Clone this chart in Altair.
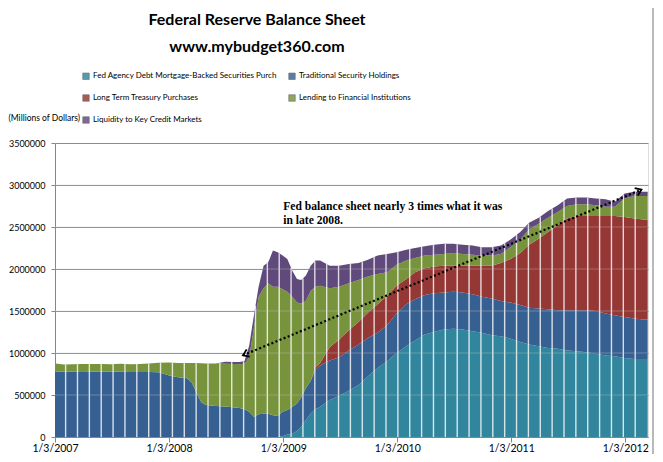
import altair as alt
import numpy as np
import pandas as pd

# ---- data (millions of dollars) ----
dates = [
    "2007-01-03", "2007-02-01", "2007-03-01", "2007-04-01", "2007-05-01", "2007-06-01",
    "2007-07-01", "2007-08-01", "2007-09-01", "2007-10-01", "2007-11-01", "2007-12-01",
    "2008-01-01", "2008-02-01", "2008-03-01", "2008-03-16", "2008-04-01", "2008-04-16",
    "2008-05-01", "2008-06-01", "2008-07-01", "2008-08-01", "2008-08-16", "2008-09-01",
    "2008-09-16", "2008-10-01", "2008-10-16", "2008-11-01", "2008-11-16", "2008-12-01",
    "2008-12-16", "2009-01-01", "2009-01-16", "2009-02-01", "2009-02-16", "2009-03-01",
    "2009-03-16", "2009-04-01", "2009-04-16", "2009-05-01", "2009-06-01", "2009-07-01",
    "2009-08-01", "2009-09-01", "2009-10-01", "2009-11-01", "2009-12-01", "2010-01-01",
    "2010-02-01", "2010-03-01", "2010-04-01", "2010-05-01", "2010-06-01", "2010-07-01",
    "2010-08-01", "2010-09-01", "2010-10-01", "2010-11-01", "2010-12-01", "2011-01-01",
    "2011-02-01", "2011-03-01", "2011-04-01", "2011-05-01", "2011-06-01", "2011-07-01",
    "2011-08-01", "2011-09-01", "2011-10-01", "2011-11-01", "2011-12-01", "2012-01-01",
    "2012-02-01", "2012-03-01", "2012-03-15",
]
mbs = [
    0, 0, 0, 0, 0, 0, 0, 0, 0, 0, 0, 0,
    0, 0, 0, 0, 0, 0, 0, 0, 0, 0, 0, 0,
    0, 0, 0, 0, 0, 0, 0, 10000, 30000, 40000, 70000, 120000,
    200000, 280000, 330000, 360000, 440000, 490000, 550000, 620000, 720000, 820000, 900000, 1000000,
    1080000, 1150000, 1220000, 1250000, 1280000, 1290000, 1280000, 1260000, 1240000, 1210000, 1200000, 1170000,
    1130000, 1100000, 1080000, 1060000, 1050000, 1030000, 1020000, 1010000, 990000, 970000, 960000, 940000,
    930000, 930000, 930000,
]
traditional = [
    780000, 780000, 781000, 782000, 781000, 781000, 780000, 778000, 775000, 774000, 773000, 770000,
    735000, 712000, 700000, 650000, 520000, 410000, 380000, 370000, 362000, 352000, 345000, 330000,
    300000, 240000, 270000, 278000, 278000, 260000, 250000, 290000, 290000, 320000, 330000, 350000,
    380000, 390000, 470000, 490000, 470000, 460000, 480000, 480000, 460000, 420000, 430000, 470000,
    500000, 490000, 470000, 460000, 440000, 440000, 440000, 440000, 430000, 440000, 420000, 430000,
    440000, 440000, 450000, 460000, 460000, 480000, 490000, 500000, 510000, 500000, 490000, 490000,
    480000, 470000, 470000,
]
long_term = [
    0, 0, 0, 0, 0, 0, 0, 0, 0, 0, 0, 0,
    0, 0, 0, 0, 0, 0, 0, 0, 0, 0, 0, 0,
    0, 0, 0, 0, 0, 0, 0, 0, 0, 0, 0, 0,
    0, 0, 30000, 30000, 160000, 210000, 240000, 270000, 300000, 340000, 350000, 330000,
    300000, 320000, 320000, 320000, 320000, 310000, 320000, 340000, 370000, 390000, 450000, 520000,
    620000, 750000, 830000, 920000, 1010000, 1090000, 1120000, 1120000, 1130000, 1160000, 1180000, 1190000,
    1190000, 1190000, 1190000,
]
lending = [
    95000, 82000, 85000, 86000, 88000, 87000, 87000, 94000, 91000, 96000, 102000, 113000,
    151000, 168000, 180000, 232000, 360000, 468000, 496000, 505000, 510000, 516000, 521000, 542000,
    650000, 1060000, 1400000, 1492000, 1552000, 1530000, 1540000, 1460000, 1410000, 1310000, 1200000, 1120000,
    1040000, 1070000, 960000, 920000, 700000, 630000, 560000, 500000, 430000, 360000, 280000, 250000,
    220000, 170000, 150000, 140000, 140000, 150000, 140000, 130000, 120000, 120000, 110000, 140000,
    160000, 180000, 180000, 170000, 160000, 150000, 140000, 140000, 130000, 110000, 110000, 220000,
    270000, 280000, 280000,
]
liquidity = [
    0, 0, 0, 0, 0, 0, 0, 0, 0, 0, 0, 0,
    0, 0, 0, 0, 0, 0, 0, 0, 23000, 25000, 27000, 33000,
    140000, 150000, 120000, 270000, 250000, 430000, 410000, 400000, 390000, 310000, 280000, 280000,
    300000, 300000, 310000, 300000, 270000, 250000, 230000, 200000, 200000, 220000, 220000, 150000,
    130000, 120000, 110000, 120000, 120000, 110000, 110000, 110000, 100000, 100000, 100000, 90000,
    90000, 80000, 70000, 80000, 80000, 90000, 80000, 80000, 80000, 90000, 60000, 60000,
    50000, 50000, 50000,
]

series_names = [
    "Fed Agency Debt  Mortgage-Backed Securities Purch",
    "Traditional Security Holdings",
    "Long Term Treasury Purchases",
    "Lending to Financial Institutions",
    "Liquidity to Key Credit  Markets",
]
series_values = [mbs, traditional, long_term, lending, liquidity]
bar_colors = ["#31859C", "#376092", "#953735", "#77933C", "#604A7B"]

title_lines = ["Federal Reserve Balance Sheet", "www.mybudget360.com"]

year_ticks = ["2007-01-03", "2008-01-03", "2009-01-03", "2010-01-03", "2011-01-03", "2012-01-03"]
y_ticks = [0, 500000, 1000000, 1500000, 2000000, 2500000, 3000000, 3500000]

note_text = ["Fed balance sheet nearly 3 times what it was", "in late 2008."]
note_date = ["2009-01-03"]
note_value = [2700000]

arrow_dates = ["2008-08-27", "2012-02-24"]
arrow_values = [973000, 2945000]

# ---- tables built from the arrays ----
rows = []
for i, d in enumerate(dates):
    for k, (name, vals) in enumerate(zip(series_names, series_values)):
        rows.append({"date": d, "series": name, "order": k, "value": vals[i]})
df = pd.DataFrame(rows)

# white seams Excel leaves between groups of weekly bars (decoration), up to the stack top
tot = np.array([sum(v[i] for v in series_values) for i in range(len(dates))], dtype=float)
dnum = pd.to_datetime(dates).astype("int64").to_numpy()
seam_dates = pd.date_range("2007-02-06", "2012-03-10", freq="38D")
seams = pd.DataFrame({
    "date": seam_dates.strftime("%Y-%m-%d"),
    "zero": 0,
    "total": np.interp(seam_dates.astype("int64").to_numpy(), dnum, tot),
})

arrow_df = pd.DataFrame({"date": arrow_dates, "value": arrow_values})
left_head = arrow_df.iloc[[0]]
right_head = arrow_df.iloc[[1]]
note_df = pd.DataFrame({"date": note_date, "value": note_value, "text": [note_text]})
grid_df = pd.DataFrame({"value": y_ticks[1:-1]})
title_df = pd.DataFrame({"text": [title_lines]})

FONT = "Lato"
x_scale = alt.Scale(domain=["2007-01-03", "2012-03-16"])
y_scale = alt.Scale(domain=[0, 3500000])

x_axis = alt.Axis(
    values=year_ticks,
    format="%-m/%-d/%Y", title=None, grid=False, tickSize=5, labelPadding=1,
    labelFont=FONT, labelFontSize=10.5, labelColor="#000000", domainColor="#868686",
    tickColor="#868686", labelFlush=False,
)
y_axis = alt.Axis(
    values=y_ticks, format="d", title="(Millions of Dollars)", titleAngle=0,
    titleX=-47, titleY=-26, titleAlign="left", titleBaseline="middle",
    titleFont=FONT, titleFontSize=8.5, titleFontWeight="normal", titleColor="#000000",
    grid=True, gridColor="#8C8C8C", tickSize=4, labelPadding=6,
    labelFont=FONT, labelFontSize=9, labelColor="#000000", domainColor="#868686",
    tickColor="#868686",
)

area = alt.Chart(df).mark_area(interpolate="linear").encode(
    x=alt.X("date:T", scale=x_scale, axis=x_axis),
    y=alt.Y("value:Q", stack="zero", scale=y_scale, axis=y_axis),
    color=alt.Color(
        "series:N",
        scale=alt.Scale(domain=series_names, range=bar_colors),
        sort=series_names,
        legend=alt.Legend(
            title=None, orient="none", direction="horizontal", legendX=27, legendY=-71,
            columns=2, symbolType="square", symbolSize=42, symbolStrokeColor="#4d4d4d",
            symbolStrokeWidth=0.6, symbolOpacity=0.82, labelFont=FONT, labelFontSize=8,
            labelColor="#000000", labelOffset=3, labelLimit=400, rowPadding=12,
            columnPadding=8, padding=0,
        ),
    ),
    order=alt.Order("order:Q", sort="ascending"),
)

seam_layer = alt.Chart(seams).mark_rule(color="#ffffff", strokeWidth=1.4, opacity=0.8).encode(
    x=alt.X("date:T", scale=x_scale), y=alt.Y("zero:Q", scale=y_scale), y2="total:Q"
)

grid_over = alt.Chart(grid_df).mark_rule(color="#c8c8c8", strokeWidth=1, opacity=0.35).encode(
    y=alt.Y("value:Q", scale=y_scale)
)

arrow_line = alt.Chart(arrow_df).mark_line(color="#000000", strokeWidth=2.2, strokeDash=[2, 2.4]).encode(
    x=alt.X("date:T", scale=x_scale), y=alt.Y("value:Q", scale=y_scale)
)

head_l = alt.Chart(left_head).mark_point(
    shape="M 1 -0.7 L 0 0 L 1 0.7", filled=False, color="#000000", strokeWidth=1.8,
    size=130, angle=337, opacity=1,
).encode(x=alt.X("date:T", scale=x_scale), y=alt.Y("value:Q", scale=y_scale))

head_r = alt.Chart(right_head).mark_point(
    shape="M -1 -0.7 L 0 0 L -1 0.7", filled=False, color="#000000", strokeWidth=1.8,
    size=130, angle=337, opacity=1,
).encode(x=alt.X("date:T", scale=x_scale), y=alt.Y("value:Q", scale=y_scale))

note = alt.Chart(note_df).mark_text(
    align="left", baseline="alphabetic", font="Liberation Serif", fontWeight="bold",
    fontSize=11.6, lineHeight=14, color="#000000",
).encode(x=alt.X("date:T", scale=x_scale), y=alt.Y("value:Q", scale=y_scale), text="text")

title = alt.Chart(title_df).mark_text(
    align="center", baseline="alphabetic", font=FONT, fontWeight="bold", fontSize=16,
    lineHeight=27, color="#000000",
).encode(x=alt.value(202), y=alt.value(-118), text="text")

frame = alt.Chart(grid_df.head(1)).mark_rule(color="#8a8a8a", strokeWidth=1.2).encode(
    x=alt.value(598), x2=alt.value(598), y=alt.value(-143), y2=alt.value(319)
)

chart = alt.layer(area, seam_layer, grid_over, arrow_line, head_l, head_r, note, title, frame).properties(
    width=593, height=294,
    autosize="none",
    padding={"left": 47, "top": 135, "right": 7, "bottom": 17},
).configure_view(fill="#E6E6E6", stroke=None).configure(background="#FFFFFF")

chart.save("out.html", embed_options={"renderer": "svg", "actions": False})
